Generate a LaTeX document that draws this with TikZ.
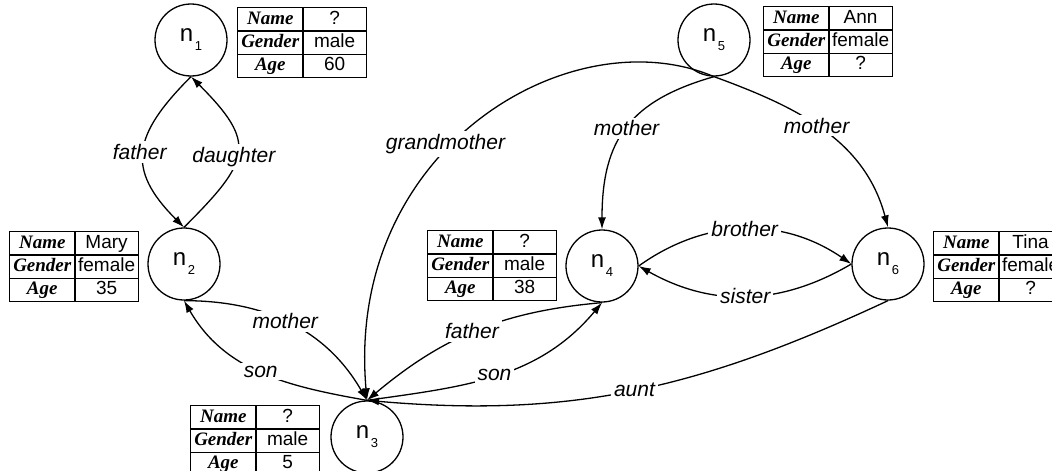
\documentclass[tikz,border=0pt]{standalone}
\usepackage{fontspec}
\setmainfont{Liberation Sans}
\newfontfamily\hdrfont{Liberation Serif}
\usetikzlibrary{arrows.meta,matrix}

% person label: "n" with a lowered index
\newcommand{\pname}[1]{{\fontsize{24}{24}\selectfont n}\hspace{1.5pt}\raisebox{-9pt}{\fontsize{13}{13}\selectfont #1}}

\tikzset{
  person/.style={circle, draw, line width=1.3pt, minimum size=72pt, inner sep=0pt},
  rel/.style={line width=1.3pt, -{Latex[length=12pt,width=8pt]}},
  lbl/.style={fill=white, inner sep=3pt, font=\fontsize{21}{24}\selectfont\itshape},
  hdr/.style={font=\hdrfont\fontsize{19}{20}\selectfont\bfseries\itshape},
  val/.style={font=\fontsize{19}{20}\selectfont},
  infotab/.style={matrix of nodes, anchor=north west, inner sep=0pt, outer sep=0pt,
    column sep=-1.3pt, row sep=-1.3pt,
    nodes={draw, line width=1.3pt, minimum height=23.3pt, inner sep=0pt,
           text height=13.5pt, text depth=3.5pt},
    column 1/.style={nodes={hdr, minimum width=65.3pt}},
    column 2/.style={nodes={val, minimum width=63.3pt}}},
}

\begin{document}
\begin{tikzpicture}[x=1pt, y=-1pt]
\useasboundingbox (0,0) rectangle (1052,471);

% people
\node[person] (n1) at (191,40)  {\pname{1}};
\node[person] (n2) at (184,264) {\pname{2}};
\node[person] (n3) at (367,437) {\pname{3}};
\node[person] (n4) at (602,266) {\pname{4}};
\node[person] (n5) at (714,40)  {\pname{5}};
\node[person] (n6) at (888,264) {\pname{6}};

% attribute tables
\matrix (t1) [infotab] at (237,7)   {Name & ?\\ Gender & male\\ Age & 60\\};
\matrix (t2) [infotab] at (9,231)   {Name & Mary\\ Gender & female\\ Age & 35\\};
\matrix (t3) [infotab] at (190,405) {Name & ?\\ Gender & male\\ Age & 5\\};
\matrix (t4) [infotab] at (427,230) {Name & ?\\ Gender & male\\ Age & 38\\};
\matrix (t5) [infotab] at (763,6)   {Name & Ann\\ Gender & female\\ Age & ?\\};
\matrix (t6) [infotab] at (933,231) {Name & Tina\\ Gender & female\\ Age & ?\\};

% relations
\draw[rel] (n1.south) to[out=225,in=135,looseness=1.4] node[lbl,xshift=-4pt]{father} (n2.north);
\draw[rel] (n2.north) to[out=45,in=-45,looseness=1.6] node[lbl,pos=.46,xshift=-3pt]{daughter} (n1.south);
\draw[rel] (n3.north) to[out=170,in=-60] node[lbl]{son} (n2.south);
\draw[rel] (n2.south) to[out=0,in=120] node[lbl,pos=.47]{mother} (n3.north);
\draw[rel] (n5.south) .. controls +(-144,-61) and +(-22,-251) .. (n3.north)
  node[lbl,pos=.56,xshift=-8pt]{grandmother};
\draw[rel] (n5.south) .. controls +(-84,24) and +(0,-90) .. (n4.north)
  node[lbl,pos=.5]{mother};
\draw[rel] (n5.south) to[out=-20,in=105] node[lbl,pos=.46]{mother} (n6.north);
\draw[rel] (n4.east) to[bend left=35] node[lbl]{brother} (n6.west);
\draw[rel] (n6.west) to[bend left=30] node[lbl]{sister} (n4.east);
\draw[rel] (n4.south) to[out=185,in=40] node[lbl,xshift=-4pt]{father} (n3.north);
\draw[rel] (n3.north) to[out=8,in=-130] node[lbl,xshift=-3pt]{son} (n4.south);
\draw[rel] (n6.south) to[out=205,in=-5] node[lbl]{aunt} (n3.north);
\end{tikzpicture}
\end{document}
